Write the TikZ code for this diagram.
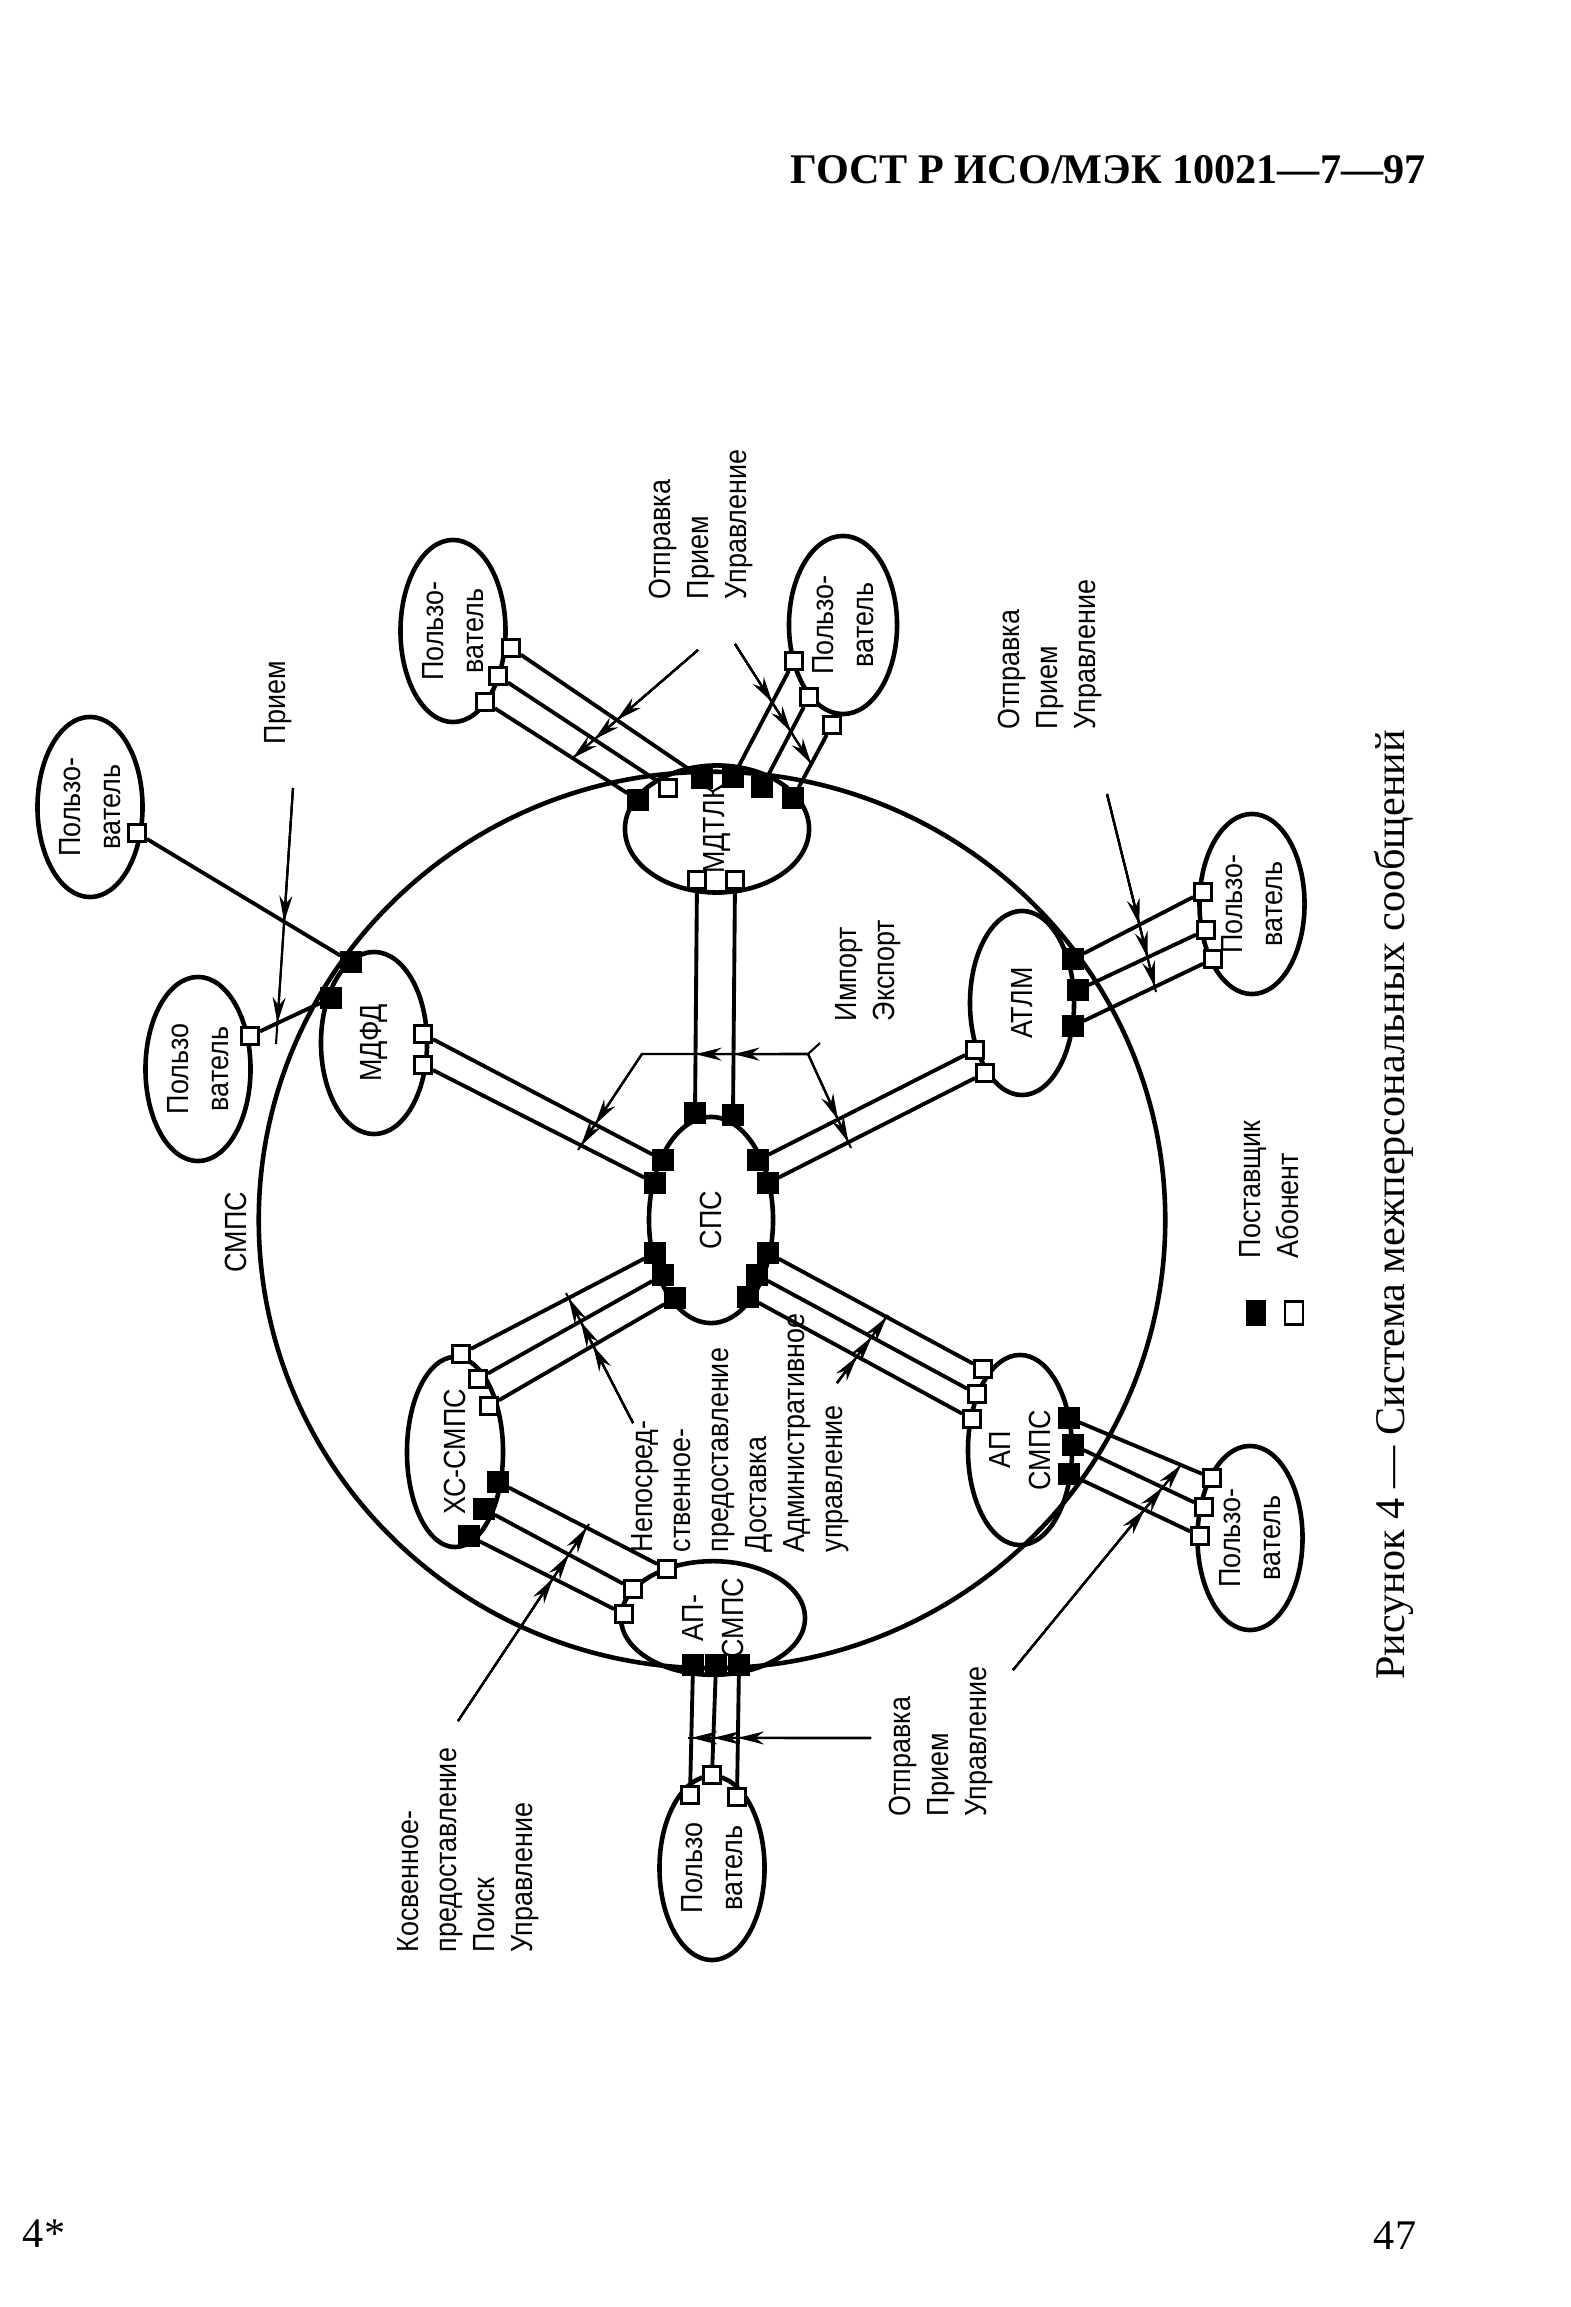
\documentclass[tikz,border=0pt]{standalone}
\usepackage{fontspec}
\setmainfont{Liberation Serif}
\setsansfont{Liberation Sans}[FakeStretch=0.88]
\usepackage{tikz}
\usetikzlibrary{arrows.meta, shapes.geometric, calc}

\begin{document}
\begin{tikzpicture}[
  x=0.01cm, y=-0.01cm,
  ent/.style={draw, ellipse, line width=1.3pt, inner sep=0pt, rotate=90, align=center,
    font=\sffamily\fontsize{8.7}{11.5}\selectfont},
  usr/.style={ent, minimum width=1.82cm, minimum height=1.05cm},
  psq/.style={draw, fill=black, minimum size=0.2cm, inner sep=0pt},
  asq/.style={draw, fill=white, line width=0.8pt, minimum size=0.17cm, inner sep=0pt},
  lnk/.style={line width=1.1pt},
  ptr/.style={line width=0.6pt},
  tip/.style={line width=0.6pt, -{Stealth[length=2.6mm, width=1.3mm]}},
  rlbl/.style={rotate=90, align=left, anchor=west, inner sep=0pt,
    font=\sffamily\fontsize{8.7}{10.8}\selectfont}
]
\useasboundingbox (0,0) rectangle (1571,2307);

% page head and foot
\node[font=\bfseries\fontsize{12}{14}\selectfont] (hdr) at (1108,170) {ГОСТ Р ИСО/МЭК 10021—7—97};
\node[font=\fontsize{12}{14}\selectfont] (pgl) at (44,2234) {4*};
\node[font=\fontsize{12}{14}\selectfont] (pgr) at (1395,2236) {47};
\node[rotate=90, font=\fontsize{12}{14}\selectfont] (cap) at (1394,1205)
  {Рисунок 4 — Система межперсональных сообщений};

% system boundary
\node[draw, ellipse, line width=1.3pt, minimum width=9.06cm, minimum height=8.96cm] (smps) at (712,1220) {};
\node[rlbl, anchor=center] (lbSmps) at (236,1232) {СМПС};

% agents
\node[usr, minimum width=1.80cm] (usrA) at (90,807) {Пользо-\\ватель};
\node[usr, minimum width=1.84cm] (usrB) at (198,1069) {Пользо\\ватель};
\node[ent, minimum width=1.82cm, minimum height=1.06cm] (mdfd) at (374,1043) {МДФД};
\node[usr] (usrC) at (453,631) {Пользо-\\ватель};
\node[usr, minimum width=1.78cm, minimum height=1.08cm] (usrD) at (843,625) {Пользо-\\ватель};
\node[ent, minimum width=1.08cm, minimum height=1.84cm] (mdtlk) at (717,829) {МДТЛК};
\node[ent, minimum width=1.84cm, minimum height=1.04cm] (atlm) at (1022,1003) {АТЛМ};
\node[usr, minimum width=1.80cm] (usrE) at (1252,904) {Пользо-\\ватель};
\node[ent, minimum width=2.06cm, minimum height=1.24cm] (sps) at (711,1220) {СПС};
\node[ent, minimum width=1.90cm, minimum height=0.96cm] (xs) at (455,1452) {ХС-СМПС};
\node[ent, minimum width=1.12cm, minimum height=1.84cm] (ap) at (713,1618) {АП-\\СМПС};
\node[usr, minimum width=1.84cm] (usrF) at (712,1868) {Пользо\\ватель};
\node[ent, minimum width=1.90cm, minimum height=1.04cm] (apr) at (1020,1450) {АП\\СМПС};
\node[usr, minimum width=1.84cm] (usrG) at (1250,1538) {Пользо-\\ватель};

% ports
\node[asq] (uA1) at (137,833) {};
\node[psq] (fd1) at (351,962) {};
\node[psq] (fd2) at (331,998) {};
\node[asq] (fd3) at (423,1034) {};
\node[asq] (fd4) at (423,1065) {};
\node[asq] (uB1) at (250,1036) {};

\node[psq] (mt1) at (638,800) {};
\node[asq] (mt2) at (668,788) {};
\node[psq] (mt3) at (702,778) {};
\node[psq] (mt4) at (733,777) {};
\node[psq] (mt5) at (762,787) {};
\node[psq] (mt6) at (793,798) {};
\node[asq] (mt7) at (697,880) {};
\node[asq] (mt8) at (735,880) {};
\node[asq] (uC1) at (511,648) {};
\node[asq] (uC2) at (498,676) {};
\node[asq] (uC3) at (485,702) {};
\node[asq] (uD1) at (794,661) {};
\node[asq] (uD2) at (809,697) {};
\node[asq] (uD3) at (832,725) {};

\node[psq] (sp1) at (695,1113) {};
\node[psq] (sp2) at (733,1115) {};
\node[psq] (sp3) at (663,1160) {};
\node[psq] (sp4) at (655,1183) {};
\node[psq] (sp5) at (758,1160) {};
\node[psq] (sp6) at (768,1183) {};
\node[psq] (sp7) at (655,1253) {};
\node[psq] (sp8) at (663,1275) {};
\node[psq] (sp9) at (675,1298) {};
\node[psq] (sp10) at (768,1253) {};
\node[psq] (sp11) at (757,1275) {};
\node[psq] (sp12) at (748,1297) {};

\node[psq] (at1) at (1073,959) {};
\node[psq] (at2) at (1078,990) {};
\node[psq] (at3) at (1073,1026) {};
\node[asq] (at4) at (975,1050) {};
\node[asq] (at5) at (985,1073) {};
\node[asq] (uE1) at (1203,892) {};
\node[asq] (uE2) at (1206,930) {};
\node[asq] (uE3) at (1213,959) {};

\node[asq] (xs1) at (461,1354) {};
\node[asq] (xs2) at (478,1379) {};
\node[asq] (xs3) at (489,1406) {};
\node[psq] (xs4) at (498,1482) {};
\node[psq] (xs5) at (484,1509) {};
\node[psq] (xs6) at (469,1536) {};
\node[asq] (ap1) at (667,1569) {};
\node[asq] (ap2) at (633,1589) {};
\node[asq] (ap3) at (624,1614) {};
\node[psq] (ap4) at (693,1665) {};
\node[psq] (ap5) at (716,1665) {};
\node[psq] (ap6) at (739,1665) {};
\node[asq] (uF1) at (690,1795) {};
\node[asq] (uF2) at (712,1775) {};
\node[asq] (uF3) at (737,1797) {};

\node[asq] (ar1) at (983,1369) {};
\node[asq] (ar2) at (977,1394) {};
\node[asq] (ar3) at (972,1419) {};
\node[psq] (ar4) at (1069,1418) {};
\node[psq] (ar5) at (1073,1445) {};
\node[psq] (ar6) at (1069,1474) {};
\node[asq] (uG1) at (1212,1478) {};
\node[asq] (uG2) at (1204,1507) {};
\node[asq] (uG3) at (1200,1536) {};

% links
\foreach \a/\b in {uA1/fd1, uB1/fd2, fd3/sp3, fd4/sp4, mt7/sp1, mt8/sp2,
    uC1/mt3, uC2/mt2, uC3/mt1, uD1/mt4, uD2/mt5, uD3/mt6,
    at1/uE1, at2/uE2, at3/uE3, at4/sp5, at5/sp6,
    xs1/sp7, xs2/sp8, xs3/sp9, xs4/ap1, xs5/ap2, xs6/ap3,
    ap4/uF1, ap5/uF2, ap6/uF3, sp10/ar1, sp11/ar2, sp12/ar3,
    ar4/uG1, ar5/uG2, ar6/uG3}
  \draw[lnk] (\a) -- (\b);

% labels
\node[rlbl] (lbPriem) at (278,745) {Прием};
\node[rlbl] (lbTop) at (701,600) {Отправка\\Прием\\Управление};
\node[rlbl] (lbRight) at (1050,730) {Отправка\\Прием\\Управление};
\node[rlbl] (lbImp) at (868,1022) {Импорт\\Экспорт};
\node[rlbl] (lbDir) at (740,1553) {Непосред-\\ственное-\\предоставление\\Доставка\\Административное\\управление};
\node[rlbl] (lbInd) at (468,1953) {Косвенное-\\предоставление\\Поиск\\Управление};
\node[rlbl] (lbBot) at (941,1817) {Отправка\\Прием\\Управление};

% legend
\node[psq, minimum width=0.18cm, minimum height=0.24cm] (lgf) at (1256,1313) {};
\node[asq, minimum width=0.18cm, minimum height=0.23cm] (lgo) at (1294,1313) {};
\node[rlbl] (lbLeg) at (1269,1259) {Поставщик\\Абонент};

% pointers
\coordinate (pa0) at (293,788);  \coordinate (pa1) at (276,1044);
\coordinate (pb0) at (698,650);  \coordinate (pb1) at (574,757);
\coordinate (pc0) at (735,644);  \coordinate (pc1) at (812,765);
\coordinate (pd0) at (1107,794); \coordinate (pd1) at (1156,992);
\coordinate (pe0) at (820,1043); \coordinate (pe1) at (808,1054);
\coordinate (pe2) at (642,1054); \coordinate (pe3) at (578,1150);
\coordinate (pe4) at (851,1148);
\coordinate (pf0) at (633,1423); \coordinate (pf1) at (566,1293);
\coordinate (pg0) at (837,1383); \coordinate (pg1) at (888,1315);
\coordinate (ph0) at (1013,1670); \coordinate (ph1) at (1180,1466);
\coordinate (pi0) at (871,1738); \coordinate (pi1) at (688,1738);
\coordinate (pj0) at (458,1721); \coordinate (pj1) at (589,1524);

\draw[ptr] (pa0) -- (pa1);
\foreach \u/\v in {uA1/fd1, uB1/fd2}
  \draw[tip] (pa0) -- (intersection of pa0--pa1 and \u--\v);
\draw[ptr] (pb0) -- (pb1);
\foreach \u/\v in {uC1/mt3, uC2/mt2, uC3/mt1}
  \draw[tip] (pb0) -- (intersection of pb0--pb1 and \u--\v);
\draw[ptr] (pc0) -- (pc1);
\foreach \u/\v in {uD1/mt4, uD2/mt5, uD3/mt6}
  \draw[tip] (pc0) -- (intersection of pc0--pc1 and \u--\v);
\draw[ptr] (pd0) -- (pd1);
\foreach \u/\v in {at1/uE1, at2/uE2, at3/uE3}
  \draw[tip] (pd0) -- (intersection of pd0--pd1 and \u--\v);
\draw[ptr] (pe0) -- (pe1) -- (pe2) -- (pe3);
\draw[ptr] (pe1) -- (pe4);
\foreach \u/\v in {mt8/sp2, mt7/sp1}
  \draw[tip] (pe1) -- (intersection of pe1--pe2 and \u--\v);
\foreach \u/\v in {fd3/sp3, fd4/sp4}
  \draw[tip] (pe2) -- (intersection of pe2--pe3 and \u--\v);
\foreach \u/\v in {at4/sp5, at5/sp6}
  \draw[tip] (pe1) -- (intersection of pe1--pe4 and \u--\v);
\draw[ptr] (pf0) -- (pf1);
\foreach \u/\v in {xs1/sp7, xs2/sp8, xs3/sp9}
  \draw[tip] (pf0) -- (intersection of pf0--pf1 and \u--\v);
\draw[ptr] (pg0) -- (pg1);
\foreach \u/\v in {sp10/ar1, sp11/ar2, sp12/ar3}
  \draw[tip] (pg0) -- (intersection of pg0--pg1 and \u--\v);
\draw[ptr] (ph0) -- (ph1);
\foreach \u/\v in {ar4/uG1, ar5/uG2, ar6/uG3}
  \draw[tip] (ph0) -- (intersection of ph0--ph1 and \u--\v);
\draw[ptr] (pi0) -- (pi1);
\foreach \u/\v in {ap4/uF1, ap5/uF2, ap6/uF3}
  \draw[tip] (pi0) -- (intersection of pi0--pi1 and \u--\v);
\draw[ptr] (pj0) -- (pj1);
\foreach \u/\v in {xs4/ap1, xs5/ap2, xs6/ap3}
  \draw[tip] (pj0) -- (intersection of pj0--pj1 and \u--\v);
\end{tikzpicture}
\end{document}
